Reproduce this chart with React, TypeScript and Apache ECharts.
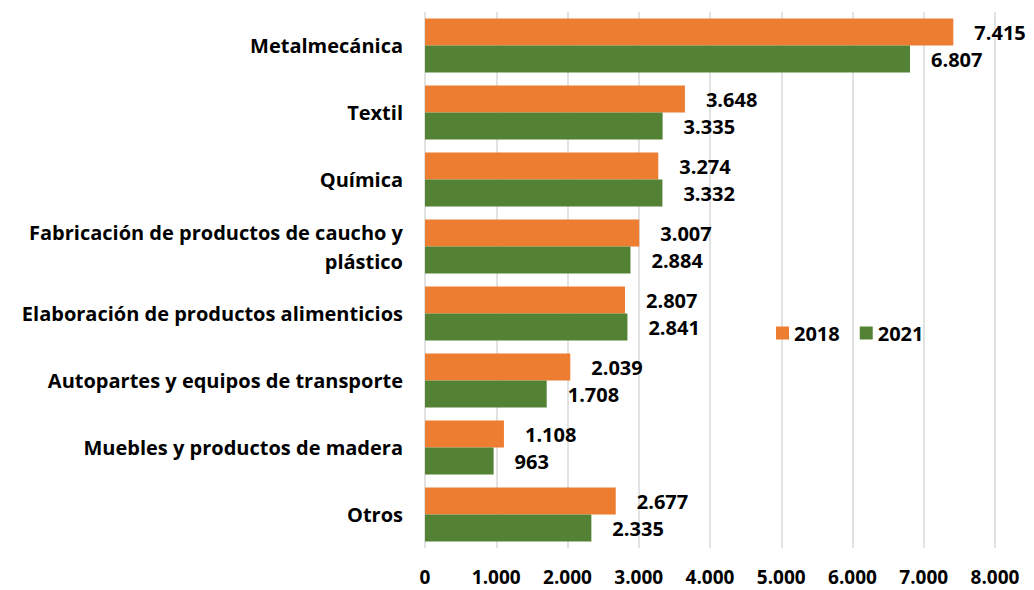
import React, { useEffect, useRef } from "react";
import * as echarts from "echarts";

const categories = [
  "Metalmecánica",
  "Textil",
  "Química",
  "Fabricación de productos de caucho y\nplástico",
  "Elaboración de productos alimenticios",
  "Autopartes y equipos de transporte",
  "Muebles y productos de madera",
  "Otros",
];
const values2018 = [7415, 3648, 3274, 3007, 2807, 2039, 1108, 2677];
const values2021 = [6807, 3335, 3332, 2884, 2841, 1708, 963, 2335];
const seriesNames = ["2018", "2021"];

const fmt = (v: number) => {
  const s = Math.round(v).toString();
  return s.replace(/\B(?=(\d{3})+(?!\d))/g, ".");
};

const FONT = "'Open Sans', 'Noto Sans', sans-serif";

export default function App() {
  const ref = useRef<HTMLDivElement>(null);
  useEffect(() => {
    if (!ref.current) return;
    const chart = echarts.init(ref.current, undefined, { renderer: "svg" });
    const labelCfg = {
      show: true,
      position: "right" as const,
      distance: 21,
      formatter: (p: any) => fmt(p.value),
      fontFamily: FONT,
      fontWeight: "bold" as const,
      fontSize: 20,
      color: "#000",
    };
    chart.setOption({
      animation: false,
      backgroundColor: "#fff",
      grid: { left: 425, right: 39, top: 12, bottom: 42 },
      legend: {
        data: seriesNames,
        left: 771,
        top: 318,
        itemWidth: 13,
        itemHeight: 13,
        itemGap: 20,
        icon: "rect",
        textStyle: { fontFamily: FONT, fontWeight: "bold", fontSize: 20, color: "#000" },
      },
      xAxis: {
        type: "value",
        min: 0,
        max: 8000,
        interval: 1000,
        axisLine: { show: false },
        axisTick: { show: false },
        splitLine: { show: true, lineStyle: { color: "#d9d9d9", width: 1.5 } },
        axisLabel: {
          formatter: (v: number) => fmt(v),
          fontFamily: FONT,
          fontWeight: "bold",
          fontSize: 19,
          color: "#000",
          margin: 19,
        },
      },
      yAxis: {
        type: "category",
        data: categories,
        inverse: true,
        axisLine: { show: false },
        axisTick: { show: false },
        axisLabel: {
          fontFamily: FONT,
          fontWeight: "bold",
          fontSize: 20,
          color: "#000",
          margin: 22,
          lineHeight: 29,
          align: "right",
        },
      },
      series: [
        {
          name: seriesNames[0],
          type: "bar",
          data: values2018,
          itemStyle: { color: "#ED7D31" },
          barWidth: 27,
          barGap: "0%",
          label: labelCfg,
        },
        {
          name: seriesNames[1],
          type: "bar",
          data: values2021,
          itemStyle: { color: "#548235" },
          barWidth: 27,
          barGap: "0%",
          label: labelCfg,
        },
      ],
    });
    return () => chart.dispose();
  }, []);
  return <div ref={ref} style={{ width: 1034, height: 590, position: "absolute", left: 0, top: 0 }} />;
}
